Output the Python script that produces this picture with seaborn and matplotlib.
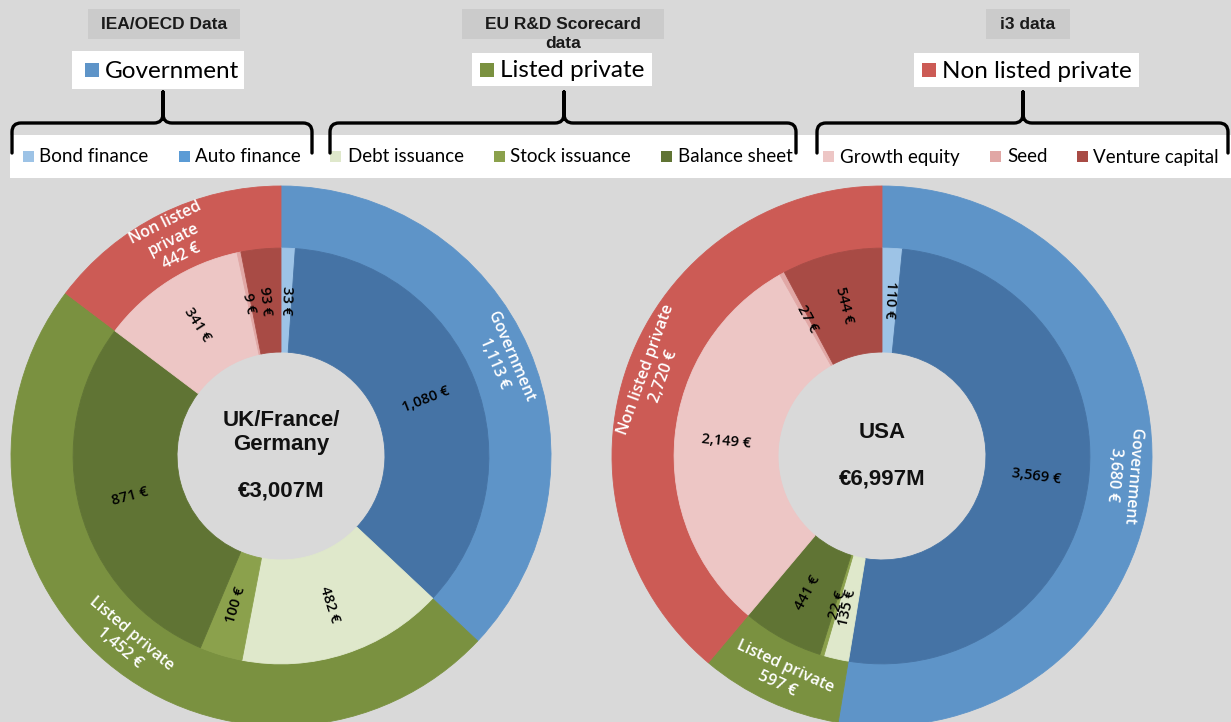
import numpy as np
import pandas as pd
import matplotlib
matplotlib.use("Agg")
import matplotlib.pyplot as plt
import seaborn as sns
from matplotlib.patches import Rectangle, PathPatch
from matplotlib.path import Path

# ---------------- data ----------------
groups = ["Government", "Listed private", "Non listed private"]
sub_names = ["Bond finance", "Auto finance", "Debt issuance", "Stock issuance",
             "Balance sheet", "Growth equity", "Seed", "Venture capital"]
sources = ["IEA/OECD Data", "EU R&D Scorecard\ndata", "i3 data"]

eu_title = "UK/France/\nGermany"
eu_total = 3007
eu_outer = [1113, 1452, 442]
eu_outer_labels = ["Government", "Listed private", "Non listed\nprivate"]
eu_inner = [33, 1080, 482, 100, 871, 341, 9, 93]

us_title = "USA"
us_total = 6997
us_outer = [3680, 597, 2720]
us_outer_labels = ["Government", "Listed private", "Non listed private"]
us_inner = [110, 3569, 135, 22, 441, 2149, 27, 544]

# ---------------- style ----------------
BG = "#d9d9d9"
outer_colors = sns.color_palette(["#5E94C8", "#7A9140", "#CC5B55"])
inner_colors = sns.color_palette(["#9DC3E6", "#4573A5", "#DFE8CB", "#8BA14C",
                                  "#607434", "#EDC6C5", "#E1A7A5", "#A84B45"])
legend_sq_colors = ["#9DC3E6", "#5B9BD5", "#DFE8CB", "#8BA14C",
                    "#607434", "#EDC6C5", "#E1A7A5", "#A84B45"]

sns.set_theme(style="white")
plt.rcParams["font.family"] = ["Lato", "DejaVu Sans"]
LABEL_FONT = ["Open Sans", "DejaVu Sans"]

W, H = 1231, 722
fig = plt.figure(figsize=(W / 100, H / 100), dpi=100, facecolor=BG)

R_OUT, R_MID, R_HOLE = 1.0, 0.77, 0.385
RAD_PX = 270
CY = 456


def norm_rot(a):
    return ((a + 100) % 180) - 100


def donut(cx, outer, outer_labels, inner, title, total):
    ax = fig.add_axes([(cx - RAD_PX) / W, 1 - (CY + RAD_PX) / H,
                       2 * RAD_PX / W, 2 * RAD_PX / H])
    ax.set_facecolor("none")
    w_out, _ = ax.pie(outer, radius=R_OUT, startangle=90, counterclock=False,
                      colors=outer_colors,
                      wedgeprops=dict(width=R_OUT - R_MID, linewidth=0.6))
    w_in, _ = ax.pie(inner, radius=R_MID, startangle=90, counterclock=False,
                     colors=inner_colors,
                     wedgeprops=dict(width=R_MID - R_HOLE, linewidth=0.6))
    for w in list(w_out) + list(w_in):
        w.set_edgecolor(w.get_facecolor())
    ax.set_xlim(-1, 1)
    ax.set_ylim(-1, 1)
    ax.set_aspect("equal")
    ax.axis("off")
    r_lab = (R_OUT + R_MID) / 2 + 0.01
    for w, lab, v in zip(w_out, outer_labels, outer):
        mid = (w.theta1 + w.theta2) / 2
        t = np.deg2rad(mid)
        ax.text(r_lab * np.cos(t), r_lab * np.sin(t), f"{lab}\n{v:,} €",
                rotation=norm_rot(mid - 90), rotation_mode="anchor",
                ha="center", va="center", multialignment="center",
                color="white", fontsize=11.5, linespacing=1.2,
                family=LABEL_FONT, fontweight="semibold")
    r_in = (R_MID + R_HOLE) / 2
    for w, v in zip(w_in, inner):
        mid = (w.theta1 + w.theta2) / 2
        t = np.deg2rad(mid)
        ax.text(r_in * np.cos(t), r_in * np.sin(t), f"{v:,} €",
                rotation=norm_rot(mid), rotation_mode="anchor",
                ha="center", va="center", color="black", fontsize=10.5,
                family=LABEL_FONT, fontweight="semibold")
    ax.text(0, 0, f"{title}\n\n€{total:,}M", ha="center", va="center",
            multialignment="center", fontsize=16, fontweight="bold",
            family="Liberation Sans", linespacing=1.15, color="#111111")
    return ax


donut(281, eu_outer, eu_outer_labels, eu_inner, eu_title, eu_total)
donut(882, us_outer, us_outer_labels, us_inner, us_title, us_total)

# ---------------- header / legend decorations ----------------
ov = fig.add_axes([0, 0, 1, 1])
ov.set_xlim(0, W)
ov.set_ylim(H, 0)
ov.axis("off")
ov.set_facecolor("none")

# source header boxes (x0, x1)
src_boxes = [(88, 240), (462, 664), (986, 1070)]
for (x0, x1), s in zip(src_boxes, sources):
    ov.add_patch(Rectangle((x0, 9), x1 - x0, 30, facecolor="#cbcbcb",
                           edgecolor="none"))
    ov.text((x0 + x1) / 2, 17, s, ha="center", va="top",
            multialignment="center", fontsize=12.5, fontweight="bold",
            family="Liberation Sans", linespacing=1.3, color="#1a1a1a")

# group boxes: (box x0, box x1, y0, y1, square x0, text x0)
grp_boxes = [(72, 244, 51, 89, 85, 105),
             (472, 652, 53, 86, 480, 500),
             (914, 1139, 53, 87, 922, 942)]
for (bx0, bx1, by0, by1, sx, tx), g, c in zip(grp_boxes, groups, outer_colors):
    ov.add_patch(Rectangle((bx0, by0), bx1 - bx0, by1 - by0,
                           facecolor="white", edgecolor="none"))
    yc = (by0 + by1) / 2
    ov.add_patch(Rectangle((sx, yc - 7), 14, 14, facecolor=c, edgecolor="none"))
    ov.text(tx, yc + 1, g, ha="left", va="center", fontsize=17.5, color="black")

# legend band
ov.add_patch(Rectangle((10, 135), W - 10, 43, facecolor="white",
                       edgecolor="none"))
leg_x = [(23, 39), (179, 195), (330, 348), (494, 510), (661, 678),
         (823, 840), (990, 1007), (1077, 1093)]
for (sx, tx), name, c in zip(leg_x, sub_names, legend_sq_colors):
    ov.add_patch(Rectangle((sx, 151), 11, 11, facecolor=c, edgecolor="none"))
    ov.text(tx, 157, name, ha="left", va="center", fontsize=13.5, color="black")


def brace(x0, x1, xm, tip=92, yh=123, ybot=153, r=9):
    verts = [(x0, ybot), (x0, yh + r), (x0, yh), (x0 + r, yh),
             (xm - r, yh), (xm, yh), (xm, yh - r), (xm, tip),
             (xm, tip), (xm, yh - r), (xm, yh), (xm + r, yh),
             (x1 - r, yh), (x1, yh), (x1, yh + r), (x1, ybot)]
    codes = [Path.MOVETO, Path.LINETO, Path.CURVE3, Path.CURVE3,
             Path.LINETO, Path.CURVE3, Path.CURVE3, Path.LINETO,
             Path.MOVETO, Path.LINETO, Path.CURVE3, Path.CURVE3,
             Path.LINETO, Path.CURVE3, Path.CURVE3, Path.LINETO]
    ov.add_patch(PathPatch(Path(verts, codes), facecolor="none",
                           edgecolor="black", linewidth=2.4,
                           capstyle="round", joinstyle="round"))


for x0, x1, xm in [(12, 312, 163), (330, 796, 564), (817, 1228, 1023)]:
    brace(x0, x1, xm)

fig.savefig("out.png", dpi=100, facecolor=BG)
